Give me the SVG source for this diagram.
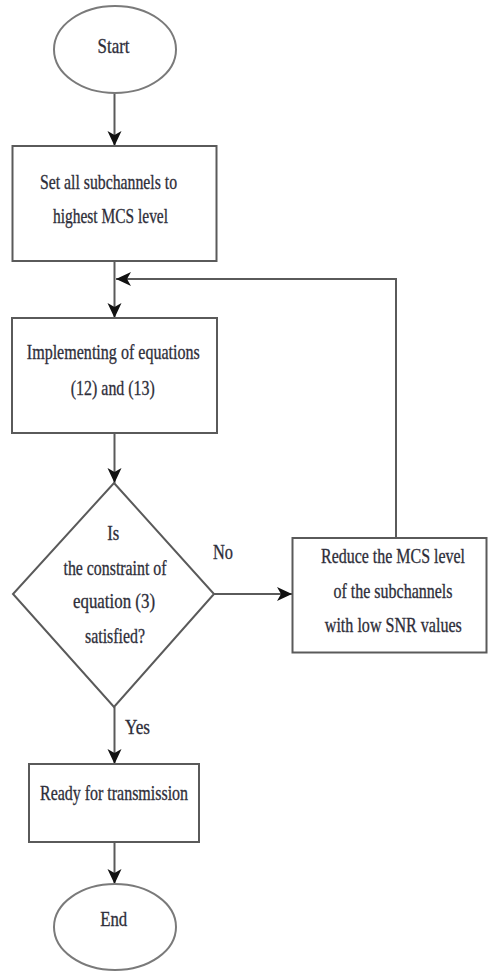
<svg xmlns="http://www.w3.org/2000/svg" width="488" height="971" viewBox="0 0 488 971">
<style>
.shape{fill:#fff;stroke:#5a5a5a;stroke-width:2}
.oval{fill:#fff;stroke:#7a7a7a;stroke-width:2}
.edge{fill:none;stroke:#5a5a5a;stroke-width:2}
text{font-family:"Liberation Serif","Times New Roman",serif;font-size:22px;fill:#2b2b35;stroke:#3a3a48;stroke-width:0.35;text-anchor:middle}
</style>
<defs>
<marker id="arr" markerUnits="userSpaceOnUse" markerWidth="16" markerHeight="16" refX="15" refY="8" orient="auto">
<path d="M0,1 L15,8 L0,15 L4,8 Z" fill="#111"/>
</marker>
</defs>
<rect width="488" height="971" fill="#fff"/>
<g id="connectors">
<line class="edge" x1="114.5" y1="93" x2="114.5" y2="146" marker-end="url(#arr)"/>
<line class="edge" x1="114.5" y1="261" x2="114.5" y2="318" marker-end="url(#arr)"/>
<polyline class="edge" points="396,538 396,279 116,279" marker-end="url(#arr)"/>
<line class="edge" x1="114.5" y1="433" x2="114.5" y2="483" marker-end="url(#arr)"/>
<line class="edge" x1="214" y1="594" x2="292" y2="594" marker-end="url(#arr)"/>
<line class="edge" x1="114.5" y1="707" x2="114.5" y2="764" marker-end="url(#arr)"/>
<line class="edge" x1="114.5" y1="842" x2="114.5" y2="884" marker-end="url(#arr)"/>
<text transform="translate(223,559) scale(0.72,1)" textLength="27.8" lengthAdjust="spacingAndGlyphs">No</text>
<text transform="translate(137.5,734) scale(0.72,1)" textLength="34.7" lengthAdjust="spacingAndGlyphs">Yes</text>
</g>
<g id="start">
<ellipse class="oval" cx="115" cy="49.5" rx="61" ry="43.5"/>
<text transform="translate(113.5,53) scale(0.72,1)" textLength="44.4" lengthAdjust="spacingAndGlyphs">Start</text>
</g>
<g id="set-highest">
<rect class="shape" x="12.5" y="146" width="204" height="115"/>
<text transform="translate(108.5,189) scale(0.72,1)" textLength="190.3" lengthAdjust="spacingAndGlyphs">Set all subchannels to</text>
<text transform="translate(110.5,223) scale(0.72,1)" textLength="159.7" lengthAdjust="spacingAndGlyphs">highest MCS level</text>
</g>
<g id="implement">
<rect class="shape" x="12" y="318" width="205" height="115"/>
<text transform="translate(113.3,359) scale(0.72,1)" textLength="240.3" lengthAdjust="spacingAndGlyphs">Implementing of equations</text>
<text transform="translate(112.8,395) scale(0.72,1)" textLength="116.7" lengthAdjust="spacingAndGlyphs">(12) and (13)</text>
</g>
<g id="decision">
<polygon class="shape" points="114,483 214,594 114,707 13,594"/>
<text transform="translate(113.3,540) scale(0.72,1)" textLength="16.7" lengthAdjust="spacingAndGlyphs">Is</text>
<text transform="translate(115,575) scale(0.72,1)" textLength="143.1" lengthAdjust="spacingAndGlyphs">the constraint of</text>
<text transform="translate(114,608) scale(0.72,1)" textLength="113.9" lengthAdjust="spacingAndGlyphs">equation (3)</text>
<text transform="translate(115,643) scale(0.72,1)" textLength="83.3" lengthAdjust="spacingAndGlyphs">satisfied?</text>
</g>
<g id="reduce">
<rect class="shape" x="292.5" y="538" width="194" height="114.5"/>
<text transform="translate(393,563) scale(0.72,1)" textLength="200" lengthAdjust="spacingAndGlyphs">Reduce the MCS level</text>
<text transform="translate(393,598) scale(0.72,1)" textLength="165.3" lengthAdjust="spacingAndGlyphs">of the subchannels</text>
<text transform="translate(393.3,632) scale(0.72,1)" textLength="190.3" lengthAdjust="spacingAndGlyphs">with low SNR values</text>
</g>
<g id="ready">
<rect class="shape" x="29" y="764" width="170" height="78"/>
<text transform="translate(114,800) scale(0.72,1)" textLength="205.6" lengthAdjust="spacingAndGlyphs">Ready for transmission</text>
</g>
<g id="end">
<ellipse class="oval" cx="115" cy="927" rx="61" ry="43"/>
<text transform="translate(113.7,926) scale(0.72,1)" textLength="37.5" lengthAdjust="spacingAndGlyphs">End</text>
</g>
</svg>
